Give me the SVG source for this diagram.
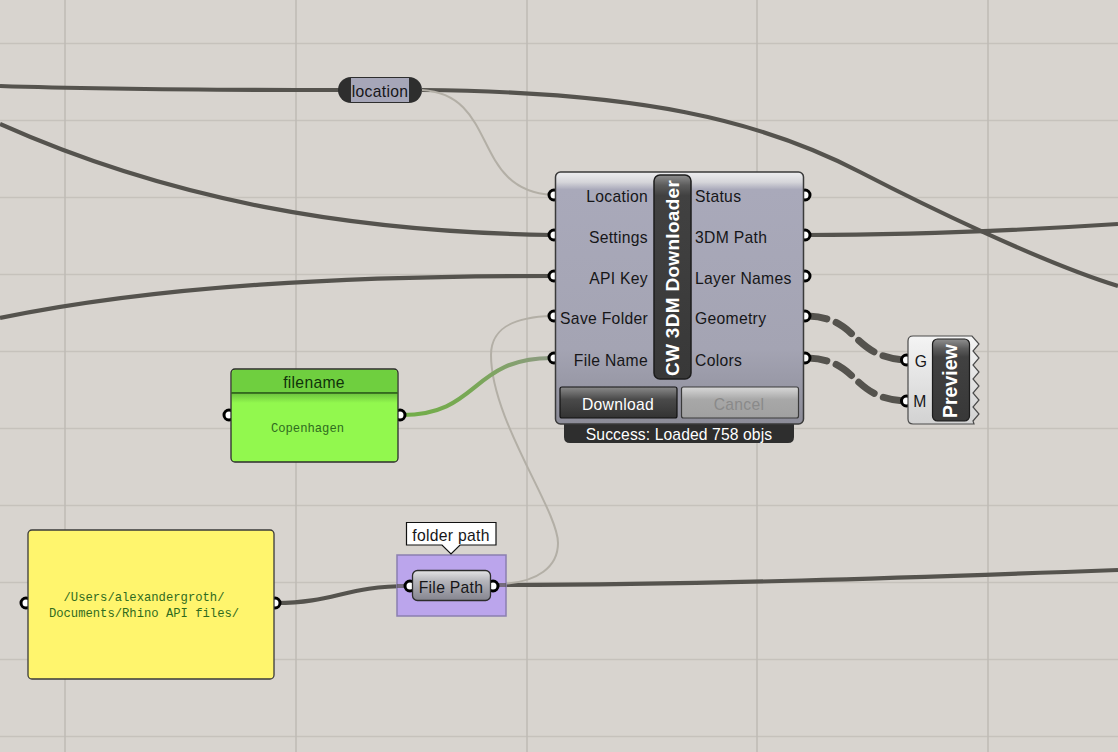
<svg xmlns="http://www.w3.org/2000/svg" width="1118" height="752" viewBox="0 0 1118 752">
<defs>
<linearGradient id="body" x1="0" y1="0" x2="0" y2="1"><stop offset="0" stop-color="#eeeef0"/><stop offset="0.04" stop-color="#d6d6da"/><stop offset="0.07" stop-color="#a9a9ba"/><stop offset="0.7" stop-color="#a4a4b3"/><stop offset="1" stop-color="#8c8c98"/></linearGradient>
<linearGradient id="dark" x1="0" y1="0" x2="0" y2="1"><stop offset="0" stop-color="#8a8a8a"/><stop offset="0.4" stop-color="#4a4a4a"/><stop offset="1" stop-color="#333"/></linearGradient>
<linearGradient id="bar" x1="0" y1="0" x2="0" y2="1"><stop offset="0" stop-color="#909090"/><stop offset="0.05" stop-color="#5c5c5c"/><stop offset="0.1" stop-color="#414141"/><stop offset="1" stop-color="#383838"/></linearGradient>
<linearGradient id="bar2" x1="0" y1="0" x2="0" y2="1"><stop offset="0" stop-color="#909090"/><stop offset="0.12" stop-color="#5c5c5c"/><stop offset="0.22" stop-color="#414141"/><stop offset="1" stop-color="#383838"/></linearGradient>
<linearGradient id="cancel" x1="0" y1="0" x2="0" y2="1"><stop offset="0" stop-color="#d8d8d8"/><stop offset="0.4" stop-color="#a8a8a8"/><stop offset="1" stop-color="#a0a0a0"/></linearGradient>
<linearGradient id="fp" x1="0" y1="0" x2="0" y2="1"><stop offset="0" stop-color="#e4e4e6"/><stop offset="0.35" stop-color="#b5b5bb"/><stop offset="1" stop-color="#85858f"/></linearGradient>
<linearGradient id="prev" x1="0" y1="0" x2="0" y2="1"><stop offset="0" stop-color="#f4f4f4"/><stop offset="1" stop-color="#d2d2d2"/></linearGradient>
<linearGradient id="green" x1="0" y1="0" x2="0" y2="1"><stop offset="0" stop-color="#6fc73f"/><stop offset="1" stop-color="#92f84e"/></linearGradient>
<linearGradient id="wireG" gradientUnits="userSpaceOnUse" x1="402" y1="0" x2="552" y2="0"><stop offset="0" stop-color="#72ae48"/><stop offset="0.45" stop-color="#78a855"/><stop offset="1" stop-color="#8f9a85"/></linearGradient>
</defs>
<style>
text{font-family:"Liberation Sans",Arial,sans-serif;font-size:15.700px;letter-spacing:.3px;fill:#161618}
.gridh{stroke:#c6c2bc;stroke-width:1.500;fill:none}
.gridv{stroke:#bfbbb5;stroke-width:1.500;fill:none}
.wire{fill:none;stroke:#55534e;stroke-width:4.200}
.thin{fill:none;stroke:#b3afa6;stroke-width:2}
.dash{fill:none;stroke:#55534e;stroke-width:7;stroke-dasharray:19 10;stroke-linecap:round}
.grip{fill:#fff;stroke:#000;stroke-width:3}
.r{text-anchor:end}
.mono{font-family:"Liberation Mono",monospace;font-size:12.200px;letter-spacing:0;fill:#2f6b1e;text-anchor:middle}
</style>
<rect width="1118" height="752" fill="#d8d4cf"/>
<g id="grid">
<path class="gridh" d="M0 43.500H1118M0 120.500H1118M0 197.500H1118M0 274.500H1118M0 351.500H1118M0 428.500H1118M0 505.500H1118M0 582.500H1118M0 659.500H1118M0 736.500H1118"/>
<path class="gridv" d="M65 0V752M296 0V752M527 0V752M757 0V752M988 0V752"/>
</g>
<g id="connectors">
<path class="wire" d="M0 86C120 90 240 90 340 90"/>
<path class="wire" d="M422 90C640 92 760 120 860 172C920 203 1040 262 1118 286"/>
<path class="wire" d="M0 124C170 200 350 232 552 235"/>
<path class="wire" d="M0 318C160 285 350 276 552 276"/>
<path class="wire" d="M806 235C900 235 1010 231 1118 224"/>
<path class="wire" d="M276 603C335 603 345 586 409 586"/>
<path class="wire" d="M495 585C700 585 900 578 1118 570"/>
<path class="thin" d="M422 90C500 95 470 190 552 195"/>
<path class="thin" d="M495 584C540 584 558 565 558 543C558 510 491 420 491 355C491 330 510 317 552 316"/>
<path d="M402 415C480 415 470 358 552 358" fill="none" stroke="url(#wireG)" stroke-width="4.200"/>
<path class="dash" d="M808 316C860 318 850 356 905 360"/>
<path class="dash" d="M808 358C860 360 850 398 905 401"/>
</g>
<g id="node-location">
<rect x="338" y="77" width="84" height="26" rx="13" fill="#2e2e2e"/>
<rect x="351" y="78" width="58" height="24" fill="#a6a6b8"/>
<text x="380" y="97" text-anchor="middle">location</text>
</g>
<g id="node-downloader">
<circle class="grip" cx="554" cy="195" r="5"/><circle class="grip" cx="554" cy="235" r="5"/><circle class="grip" cx="554" cy="276" r="5"/><circle class="grip" cx="554" cy="316" r="5"/><circle class="grip" cx="554" cy="358" r="5"/>
<circle class="grip" cx="805" cy="195" r="5"/><circle class="grip" cx="805" cy="235" r="5"/><circle class="grip" cx="805" cy="276" r="5"/><circle class="grip" cx="805" cy="316" r="5"/><circle class="grip" cx="805" cy="358" r="5"/>
<path d="M564 420H794V437Q794 443 788 443H570Q564 443 564 437Z" fill="#2e2e2e"/>
<rect x="555.500" y="172" width="248" height="252" rx="5" fill="url(#body)" stroke="#3a3a3a" stroke-width="1.500"/>
<rect x="654" y="175" width="37" height="204" rx="6" fill="url(#bar)" stroke="#1c1c1c" stroke-width="1.500"/>
<text transform="translate(678.500 376) rotate(-90)" style="font-size:19px;font-weight:700;fill:#fff;letter-spacing:.3px">CW 3DM Downloader</text>
<text class="r" x="648" y="202">Location</text><text class="r" x="648" y="243">Settings</text><text class="r" x="648" y="284">API Key</text><text class="r" x="648" y="324">Save Folder</text><text class="r" x="648" y="366">File Name</text>
<text x="695" y="202">Status</text><text x="695" y="243">3DM Path</text><text x="695" y="284">Layer Names</text><text x="695" y="324">Geometry</text><text x="695" y="366">Colors</text>
<rect x="560" y="387" width="117" height="31" rx="2" fill="url(#dark)" stroke="#111" stroke-width="1.200"/>
<text x="618" y="410" text-anchor="middle" style="fill:#fff">Download</text>
<rect x="681.500" y="387" width="117" height="31" rx="2" fill="url(#cancel)" stroke="#3a3a3a" stroke-width="1.200"/>
<text x="739" y="410" text-anchor="middle" style="fill:#8a8a8a">Cancel</text>
<text x="679" y="440" text-anchor="middle" style="fill:#fff;letter-spacing:.1px">Success: Loaded 758 objs</text>
</g>
<g id="node-preview">
<circle class="grip" cx="906.500" cy="360" r="5"/><circle class="grip" cx="906.500" cy="401" r="5"/>
<path d="M913 336H972L979 344L973 351L979 358L973 365L979 372L973 379L979 386L973 393L979 400L973 407L979 414L973 421L974 424H913Q908 424 908 419V341Q908 336 913 336Z" fill="url(#prev)" stroke="#4a4a4a" stroke-width="1.200"/>
<text x="921" y="367" text-anchor="middle">G</text><text x="920" y="407" text-anchor="middle">M</text>
<rect x="932.500" y="339" width="37" height="82" rx="5" fill="url(#bar2)" stroke="#1c1c1c" stroke-width="1.200"/>
<text transform="translate(957 418) rotate(-90)" style="font-size:19.500px;font-weight:700;fill:#fff;letter-spacing:0">Preview</text>
</g>
<g id="node-filename">
<circle class="grip" cx="229" cy="415" r="5"/><circle class="grip" cx="400" cy="415" r="5"/>
<rect x="231" y="369" width="167" height="93" rx="4" fill="#92f84e" stroke="#2c2c2c" stroke-width="1.300"/>
<path d="M232 393V373Q232 370 235 370H394Q397 370 397 373V393Z" fill="#6fcf3f"/>
<rect x="232" y="394" width="165" height="9" fill="url(#green)"/>
<path d="M231.500 393H397.500" stroke="#1f4a14" stroke-width="1.300"/>
<text x="314" y="388" text-anchor="middle" style="fill:#10330a">filename</text>
<text class="mono" x="307.500" y="432">Copenhagen</text>
</g>
<g id="node-path">
<circle class="grip" cx="26" cy="603" r="5"/><circle class="grip" cx="275" cy="603" r="5"/>
<rect x="28" y="530" width="246" height="149" rx="4" fill="#fff56d" stroke="#3a3a3a" stroke-width="1.300"/>
<text class="mono" x="144" y="601">/Users/alexandergroth/</text>
<text class="mono" x="144" y="617">Documents/Rhino API files/</text>
</g>
<g id="node-filepath">
<rect x="397" y="555" width="109" height="61" fill="#bba5ec" stroke="#8b7fb0" stroke-width="1.500"/>
<path d="M406.500 522.500H496V545H460L451 554L442 545H406.500Z" fill="#fff" stroke="#111" stroke-width="1.200"/>
<text x="451" y="541" text-anchor="middle">folder path</text>
<path class="wire" d="M397 586H409M495 585H506" style="opacity:.7"/>
<circle class="grip" cx="410" cy="586" r="5"/><circle class="grip" cx="493" cy="586" r="5"/>
<rect x="412.500" y="570.500" width="78" height="30" rx="5" fill="url(#fp)" stroke="#2c2c2c" stroke-width="1.300"/>
<text x="451" y="593" text-anchor="middle">File Path</text>
</g>
</svg>
